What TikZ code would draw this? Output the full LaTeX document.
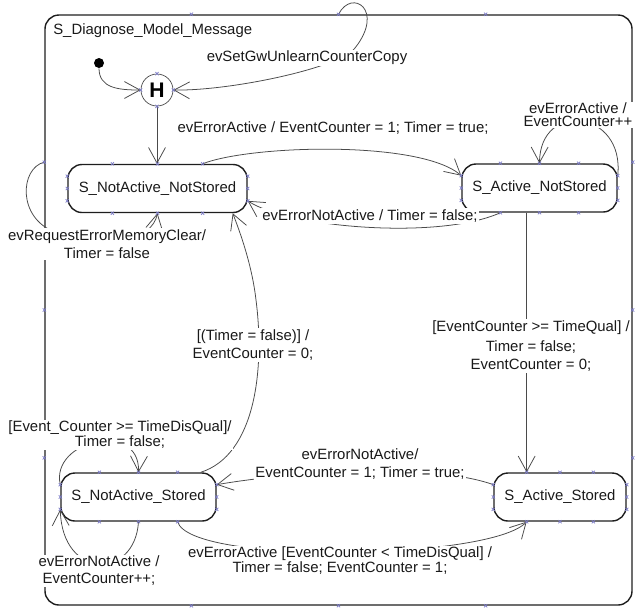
\documentclass[tikz,border=0pt]{standalone}
\usepackage{fontspec}
\setmainfont{Liberation Sans}
\usepackage{tikz}
\usetikzlibrary{arrows.meta,calc}
\definecolor{edge}{HTML}{4A4A4A}
\definecolor{frame}{HTML}{1E1E1E}
\definecolor{handlec}{HTML}{7C7CC8}
\newcommand{\px}{0.025cm}
\newcommand{\hnd}[1]{\draw[handle] #1 ++(-1.6,-1.6) -- ++(3.2,3.2) ++(-3.2,0) -- ++(3.2,-3.2);}
\begin{document}
\begin{tikzpicture}[x=\px,y=-\px,
  txt/.style={font=\fontsize{10.6}{12.8}\selectfont,text=black!90,inner sep=0pt},
  outer/.style={draw=frame,line width=1pt,rounded corners=0.35cm},
  state/.style={txt,draw=frame,line width=1pt,rounded corners=0.35cm,minimum height=48*\px},
  hist/.style={circle,draw=edge,line width=0.5pt,minimum size=32*\px,inner sep=0pt,
               font=\fontsize{15}{15}\selectfont\bfseries},
  init/.style={circle,fill=black,minimum size=10*\px,inner sep=0pt},
  tr/.style={draw=edge,line width=0.55pt,-{Straight Barb[length=11pt,width=12pt]}},
  lbl/.style={txt,fill=white,inner sep=1pt,align=center},
  handle/.style={draw=handlec,line width=0.5pt}
]
\useasboundingbox (0,0) rectangle (643,608);
\node[outer,minimum width=587*\px,minimum height=590*\px] (diag) at (338.5,310) {};
\node[txt,anchor=west] (diagname) at (53,31) {S\_Diagnose\_Model\_Message};
\node[state,minimum width=179*\px] (nans) at (157.5,188.5) {S\_NotActive\_NotStored};
\node[state,minimum width=155*\px] (ans) at (539.5,188) {S\_Active\_NotStored};
\node[state,minimum width=155*\px] (nas) at (138.5,497) {S\_NotActive\_Stored};
\node[state,minimum width=132*\px] (as) at (560,497) {S\_Active\_Stored};
\node[hist] (hist) at (157,90) {H};
\node[init] (init) at (99,63) {};
\coordinate (asin) at ($(as.north west)!0.25!(as.north east)$);

\draw[tr] (init) .. controls (99,88) and (118,90) .. (hist.west);
\draw[tr] ($(diag.north west)!0.5!(diag.north east)$) .. controls (352,-12) and (385,10) .. (355,48)
  .. controls (340,68) and (230,91) .. (hist.east);
\draw[tr] (hist.south) -- (hist.south |- nans.north);
\draw[tr] ($(nans.north west)!0.75!(nans.north east)$) .. controls (250,145) and (420,140)
  .. ($(ans.north west)!0.25!(ans.south west)$);
\draw[tr] ($(ans.south west)!0.25!(ans.south east)$) .. controls (440,240) and (290,228)
  .. ($(nans.north east)!0.75!(nans.south east)$);
\draw[tr] ($(diag.north west)!0.25!(diag.south west)$) .. controls (20,168) and (17,218) .. (55,232)
  .. controls (110,250) and (152,240) .. (nans.south);
\draw[tr] ($(nas.north east)+(-16,0)$) .. controls (255,455) and (265,370) .. (256,300)
  .. controls (252,265) and (240,232) .. ($(nans.south east)+(-15,0)$);
\draw[tr] (asin |- ans.south) -- (asin);
\draw[tr] ($(as.north west)!0.25!(as.south west)$) .. controls (430,462) and (290,472)
  .. ($(nas.north east)!0.25!(nas.south east)$);
\draw[tr] ($(nas.south west)!0.75!(nas.south east)$) .. controls (190,565) and (490,560)
  .. ($(as.south west)!0.25!(as.south east)$);
\draw[tr] ($(nas.north west)!0.25!(nas.south west)$) .. controls (50,440) and (140,420) .. (nas.north);
\draw[tr] (nas.south) .. controls (135,580) and (62,580) .. ($(nas.north west)!0.75!(nas.south west)$);
\draw[tr] ($(ans.north east)!0.25!(ans.south east)$) .. controls (625,110) and (540,100) .. (ans.north);

\node[lbl] (lbcopy) at (307,58) {evSetGwUnlearnCounterCopy};
\node[lbl] (lbact) at (333,128) {evErrorActive / EventCounter = 1; Timer = true;};
\node[lbl] (lbnotact) at (370,216) {evErrorNotActive / Timer = false;};
\node[lbl] (lbclear) at (107,244) {evRequestErrorMemoryClear/\\Timer = false};
\node[lbl] (lbtimer) at (253,345) {[(Timer = false)] /\\EventCounter = 0;};
\node[lbl] (lbqual) at (531,346) {[EventCounter >= TimeQual] /\\[2pt]Timer = false;\\EventCounter = 0;};
\node[lbl] (lbback) at (360,464) {evErrorNotActive/\\EventCounter = 1; Timer = true;};
\node[lbl] (lbdisq) at (340,561) {evErrorActive [EventCounter < TimeDisQual] /\\[-2.1pt]Timer = false; EventCounter = 1;};
\node[lbl] (lbstay) at (120,435) {[Event\_Counter >= TimeDisQual]/\\[-2.1pt]Timer = false;};
\node[lbl] (lbinc) at (99,571) {evErrorNotActive /\\[-0.7pt]EventCounter++;};
\node[lbl] (lbcount) at (578,115) {evErrorActive /\\[-3.6pt]EventCounter++};

\foreach \n in {diag,nans,ans,nas,as}{
  \foreach \f in {0.25,0.5,0.75}{
    \hnd{($(\n.north west)!\f!(\n.north east)$)}
    \hnd{($(\n.south west)!\f!(\n.south east)$)}
    \hnd{($(\n.north west)!\f!(\n.south west)$)}
    \hnd{($(\n.north east)!\f!(\n.south east)$)}
  }
}
\foreach \a in {north,south,east,west}{\hnd{(hist.\a)}}
\end{tikzpicture}
\end{document}
